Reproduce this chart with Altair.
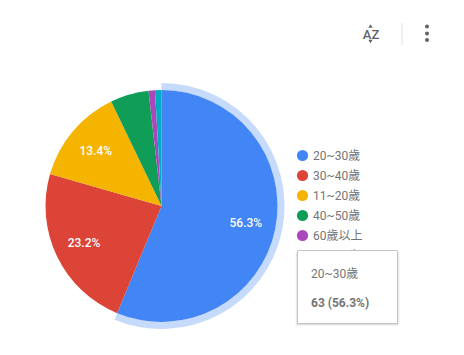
import altair as alt
import pandas as pd

categories = ["20~30歲", "30~40歲", "11~20歲", "40~50歲", "60歲以上", "50~60歲"]
values = [63, 26, 15, 6, 1, 1]
pie_labels = ["56.3%", "23.2%", "13.4%", "", "", ""]
colors = ["#4285F4", "#DB4437", "#F4B400", "#0F9D58", "#AB47BC", "#00ACC1"]
tooltip_lines = ["20~30歲", "63 (56.3%)"]

FONT = "Roboto, 'Noto Sans CJK TC', sans-serif"
CX, CY = 153.5, 198

df = pd.DataFrame({
    "category": categories,
    "value": values,
    "label": pie_labels,
    "idx": list(range(len(categories))),
})
base = alt.Chart(df)
theta = alt.Theta("value:Q", stack=True)
order = alt.Order("idx:Q")
color = alt.Color(
    "category:N",
    scale=alt.Scale(domain=categories, range=colors),
    legend=None,
)
pos = dict(x=alt.value(CX), y=alt.value(CY))

ring = base.mark_arc(radius=123, radius2=116, color="#C6DAFC").encode(
    theta=theta, order=order,
    opacity=alt.condition(alt.datum.idx == 0, alt.value(1), alt.value(0)),
    **pos,
)
pie = base.mark_arc(radius=116).encode(
    theta=theta, order=order, color=color, **pos
)
labels = base.mark_text(
    radius=86, font=FONT, fontSize=12, fontWeight=500, color="white"
).encode(theta=theta, order=order, text="label:N", **pos)

legend_y = alt.Y(
    "category:N",
    scale=alt.Scale(type="point", domain=categories, range=[147.5, 247.5], padding=0),
    axis=None,
)
legend_dots = base.mark_circle(size=125, opacity=1).encode(
    x=alt.value(294.5), y=legend_y, color=color
)
legend_text = base.mark_text(
    align="left", baseline="middle", font=FONT, fontSize=12, color="#757575"
).encode(x=alt.value(305), y=legend_y, text="category:N")

tip_df = pd.DataFrame({"line": tooltip_lines})
def box(x0, x1, y0, y1, **kw):
    return alt.Chart(tip_df.head(1)).mark_rect(**kw).encode(
        x=alt.value(x0), x2=alt.value(x1), y=alt.value(y0), y2=alt.value(y1)
    )
shadow = [
    box(287.5, 391.5, 244, 318, color="#000000", opacity=0.05),
    box(288.5, 390.5, 244, 317, color="#000000", opacity=0.07),
]
tip_box = box(289.5, 389.5, 242.5, 315.5, color="white", stroke="#C4C4C4", strokeWidth=1)
tip_1 = alt.Chart(tip_df.head(1)).mark_text(
    align="left", baseline="middle", font=FONT, fontSize=12, color="#757575"
).encode(x=alt.value(303), y=alt.value(265.5), text="line:N")
tip_2 = alt.Chart(tip_df.tail(1)).mark_text(
    align="left", baseline="middle", font=FONT, fontSize=12, fontWeight="bold", color="#757575"
).encode(x=alt.value(303), y=alt.value(295), text="line:N")

# toolbar
icon_df = pd.DataFrame({"t": ["AZ"]})
az = alt.Chart(icon_df).mark_text(
    font=FONT, fontSize=13, fontWeight=500, color="#5F6368", baseline="middle"
).encode(x=alt.value(363), y=alt.value(26.5), text="t:N")
def tri(y, shape):
    return alt.Chart(icon_df).mark_point(
        shape=shape, filled=True, size=18, color="#5F6368", opacity=1
    ).encode(x=alt.value(362.5), y=alt.value(y))
arrow_up = tri(18, "triangle-up")
arrow_dn = tri(33.5, "triangle-down")
divider = alt.Chart(icon_df).mark_rule(color="#E0E0E0", strokeWidth=1).encode(
    x=alt.value(394), y=alt.value(15), y2=alt.value(37)
)
def dot(y):
    return alt.Chart(icon_df).mark_circle(size=16, color="#5F6368", opacity=1).encode(
        x=alt.value(419), y=alt.value(y)
    )

chart = alt.layer(
    ring, pie, labels, legend_dots, legend_text,
    *shadow, tip_box, tip_1, tip_2,
    az, arrow_up, arrow_dn, divider, dot(18.5), dot(25.5), dot(32),
).properties(
    width=448, height=339, padding=0,
    autosize=alt.AutoSizeParams(type="none"),
).resolve_scale(color="independent").configure_view(stroke=None)

chart.save("out.html", embed_options={"renderer": "svg", "actions": False})
